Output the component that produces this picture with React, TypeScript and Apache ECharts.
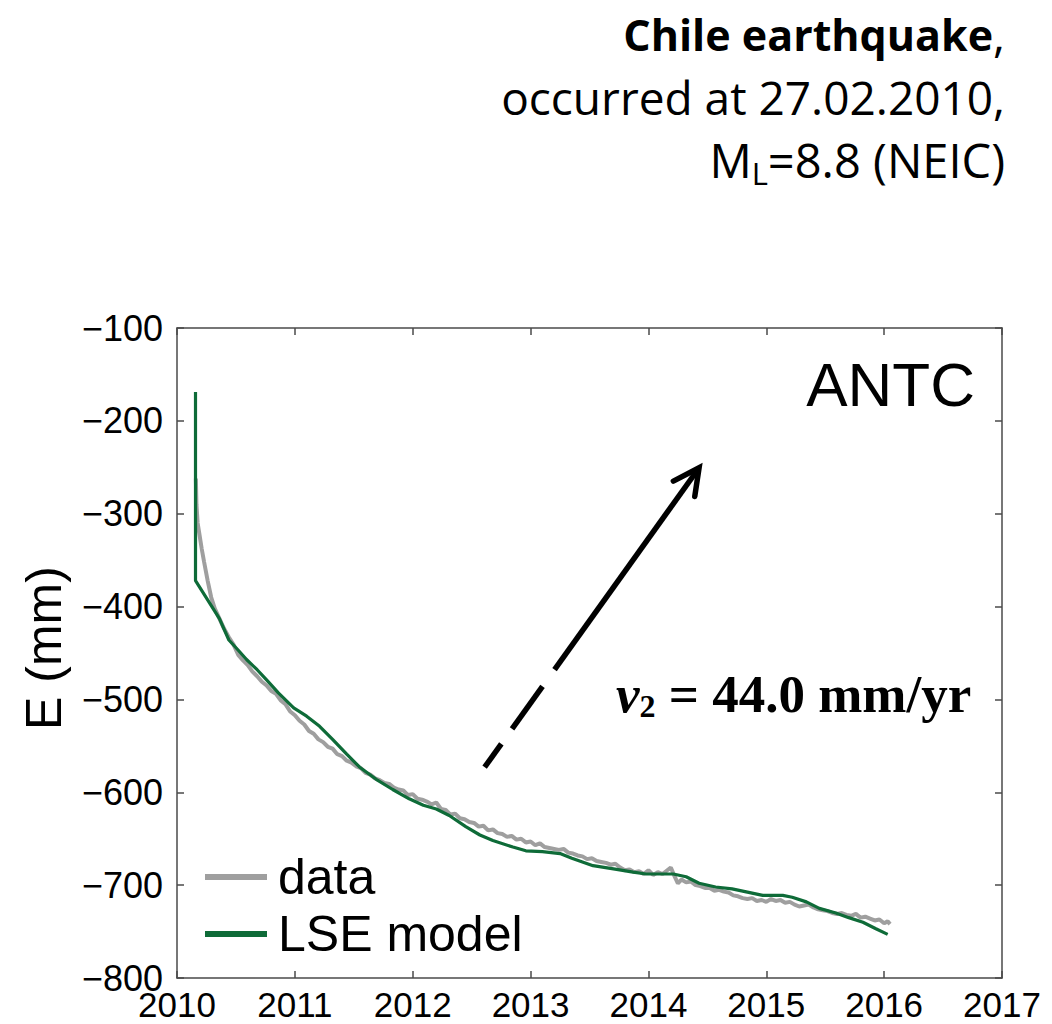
import React, { useEffect, useRef } from "react";
import * as echarts from "echarts";

// ---- data ----
const dataYears = [
  2010.160, 2010.165, 2010.175, 2010.19, 2010.21, 2010.23, 2010.26, 2010.29, 2010.32, 2010.36,
  2010.40, 2010.44, 2010.48, 2010.52, 2010.56, 2010.60, 2010.64, 2010.68, 2010.72, 2010.76,
  2010.80, 2010.84, 2010.88, 2010.92, 2010.96, 2011.00, 2011.04, 2011.08, 2011.12, 2011.16,
  2011.20, 2011.24, 2011.28, 2011.32, 2011.36, 2011.40, 2011.44, 2011.48, 2011.52, 2011.56,
  2011.60, 2011.64, 2011.68, 2011.72, 2011.76, 2011.80, 2011.84, 2011.88, 2011.92, 2011.96,
  2012.00, 2012.04, 2012.08, 2012.12, 2012.16, 2012.20, 2012.24, 2012.28, 2012.32, 2012.36,
  2012.40, 2012.44, 2012.48, 2012.52, 2012.56, 2012.60, 2012.64, 2012.68, 2012.72, 2012.76,
  2012.80, 2012.84, 2012.88, 2012.92, 2012.96, 2013.00, 2013.04, 2013.08, 2013.12, 2013.16,
  2013.20, 2013.24, 2013.28, 2013.32, 2013.36, 2013.40, 2013.44, 2013.48, 2013.52, 2013.56,
  2013.60, 2013.64, 2013.68, 2013.72, 2013.76, 2013.80, 2013.84, 2013.88, 2013.92, 2013.96,
  2014.00, 2014.04, 2014.08, 2014.12, 2014.16, 2014.19, 2014.22, 2014.25, 2014.28, 2014.32,
  2014.36, 2014.40, 2014.44, 2014.48, 2014.52, 2014.56, 2014.60, 2014.64, 2014.68, 2014.72,
  2014.76, 2014.80, 2014.84, 2014.88, 2014.92, 2014.96, 2015.00, 2015.04, 2015.08, 2015.12,
  2015.16, 2015.20, 2015.24, 2015.28, 2015.32, 2015.36, 2015.40, 2015.44, 2015.48, 2015.52,
  2015.56, 2015.60, 2015.64, 2015.68, 2015.72, 2015.76, 2015.80, 2015.84, 2015.88, 2015.92,
  2015.96, 2016.00, 2016.03, 2016.05,
];
const dataValues = [
  -262, -290, -310, -322, -338, -352, -372, -390, -402, -413,
  -424, -433, -441, -452, -458, -463, -470, -475, -481, -485,
  -491, -494, -501, -505, -513, -517, -523, -527, -534, -537,
  -543, -546, -551, -553, -559, -561, -566, -568, -572, -574,
  -579, -581, -585, -587, -590, -591, -595, -597, -598, -603,
  -602, -607, -608, -610, -613, -611, -618, -619, -624, -623,
  -628, -629, -632, -633, -637, -636, -641, -640, -644, -645,
  -648, -647, -651, -650, -654, -653, -657, -655, -659, -660,
  -661, -662, -661, -665, -666, -668, -669, -672, -671, -674,
  -675, -676, -678, -677, -681, -684, -683, -686, -685, -688,
  -684, -689, -686, -688, -684, -681, -690, -698, -694, -697,
  -696, -700, -701, -703, -703, -706, -705, -707, -708, -711,
  -712, -714, -715, -714, -717, -716, -718, -715, -717, -716,
  -719, -718, -721, -723, -722, -721, -724, -726, -727, -728,
  -730, -731, -730, -732, -733, -731, -735, -734, -736, -738,
  -737, -741, -739, -742,
];
const modelYears = [
  2010.157, 2010.157, 2010.36, 2010.44, 2010.52, 2010.59, 2010.68, 2010.76, 2010.86, 2010.99,
  2011.10, 2011.21, 2011.32, 2011.44, 2011.55, 2011.69, 2011.83, 2011.97, 2012.09, 2012.20,
  2012.31, 2012.45, 2012.57, 2012.68, 2012.85, 2012.96, 2013.10, 2013.25, 2013.35, 2013.44,
  2013.53, 2013.73, 2013.87, 2013.98, 2014.09, 2014.21, 2014.32, 2014.43, 2014.57, 2014.71,
  2014.86, 2014.97, 2015.14, 2015.22, 2015.34, 2015.45, 2015.59, 2015.70, 2015.82, 2015.93,
  2016.03,
];
const modelValues = [
  -169, -372, -413, -436, -447, -457, -468, -479, -493, -509,
  -518, -529, -543, -559, -573, -586, -597, -607, -614, -618,
  -625, -637, -646, -652, -659, -663, -664, -666, -671, -675,
  -679, -683, -686, -688, -688, -688, -691, -698, -702, -704,
  -708, -711, -711, -713, -718, -725, -730, -735, -740, -747,
  -753,
];
const xTickLabels = ["2010", "2011", "2012", "2013", "2014", "2015", "2016", "2017"];
const yTickLabels = ["-800", "-700", "-600", "-500", "-400", "-300", "-200", "-100"];
const seriesNames = ["data", "LSE model"];
const arrowTail = [2012.61, -573];
const arrowTip = [2014.43, -250.5];

const AXIS = "#4a4a4a";
const GRAY = "#9f9f9f";
const GREEN = "#0e6b38";

export default function App() {
  const ref = useRef<HTMLDivElement>(null);

  useEffect(() => {
    const el = ref.current;
    if (!el) return;
    const chart = echarts.init(el, null, { renderer: "svg" });

    const xMin = Number(xTickLabels[0]);
    const xMax = Number(xTickLabels[xTickLabels.length - 1]);
    const yMin = Number(yTickLabels[0]);
    const yMax = Number(yTickLabels[yTickLabels.length - 1]);

    const baseX = {
      type: "value",
      min: xMin,
      max: xMax,
      interval: 1,
      axisLine: { show: true, onZero: false, lineStyle: { color: AXIS, width: 1.5 } },
      axisTick: { show: true, inside: true, length: 7, lineStyle: { color: AXIS, width: 1.5 } },
      splitLine: { show: false },
    };
    const baseY = {
      type: "value",
      min: yMin,
      max: yMax,
      interval: 100,
      axisLine: { show: true, onZero: false, lineStyle: { color: AXIS, width: 1.5 } },
      axisTick: { show: true, inside: true, length: 7, lineStyle: { color: AXIS, width: 1.5 } },
      splitLine: { show: false },
    };

    chart.setOption({
      animation: false,
      backgroundColor: "#ffffff",
      grid: { left: 177, right: 50, top: 328, bottom: 46, containLabel: false },
      xAxis: [
        {
          ...baseX,
          position: "bottom",
          axisLabel: {
            show: true,
            margin: 14,
            color: "#000",
            fontFamily: "Liberation Sans",
            fontSize: 35,
            lineHeight: 24,
            formatter: (v: number) => String(v),
          },
        },
        { ...baseX, position: "top", axisLabel: { show: false } },
      ],
      yAxis: [
        {
          ...baseY,
          position: "left",
          axisLabel: {
            show: true,
            margin: 14,
            color: "#000",
            fontFamily: "Liberation Sans",
            fontSize: 36,
            formatter: (v: number) => String(v).replace("-", "\u2212"),
          },
        },
        { ...baseY, position: "right", axisLabel: { show: false } },
      ],
      legend: {
        orient: "vertical",
        left: 205,
        top: 852,
        padding: 0,
        itemWidth: 62,
        itemHeight: 6,
        itemGap: 7,
        icon: "rect",
        selectedMode: false,
        textStyle: {
          color: "#000",
          fontFamily: "Liberation Sans",
          fontSize: 50,
          lineHeight: 48,
          padding: [0, 0, 0, 6],
        },
        data: seriesNames,
      },
      series: [
        {
          name: seriesNames[0],
          type: "line",
          xAxisIndex: 0,
          yAxisIndex: 0,
          data: dataYears.map((x, i) => [x, dataValues[i]]),
          showSymbol: false,
          symbol: "none",
          lineStyle: { color: GRAY, width: 4 },
          itemStyle: { color: GRAY },
          z: 2,
        },
        {
          name: seriesNames[1],
          type: "line",
          xAxisIndex: 0,
          yAxisIndex: 0,
          data: modelYears.map((x, i) => [x, modelValues[i]]),
          showSymbol: false,
          symbol: "none",
          lineStyle: { color: GREEN, width: 3.2 },
          itemStyle: { color: GREEN },
          z: 3,
        },
      ],
    });

    // annotation arrow in data coordinates
    const finder = { xAxisIndex: 0, yAxisIndex: 0 };
    const p0 = chart.convertToPixel(finder, arrowTail) as number[];
    const p1 = chart.convertToPixel(finder, arrowTip) as number[];
    const dx = p1[0] - p0[0];
    const dy = p1[1] - p0[1];
    const len = Math.sqrt(dx * dx + dy * dy);
    const ux = dx / len;
    const uy = dy / len;
    const at = (t: number) => [p0[0] + dx * t, p0[1] + dy * t];
    const segs = [
      [0, 0.078],
      [0.128, 0.27],
      [0.326, 0.985],
    ];
    const arrowStyle = { stroke: "#000", lineWidth: 5.5, lineCap: "butt" };
    const segEls = segs.map(([a, b]) => {
      const s = at(a);
      const e = at(b);
      return {
        type: "line",
        shape: { x1: s[0], y1: s[1], x2: e[0], y2: e[1] },
        style: arrowStyle,
        z: 10,
      };
    });
    const ang = (27 * Math.PI) / 180;
    const armLen = 29;
    const bx = -ux;
    const by = -uy;
    const rot = (a: number) => [
      p1[0] + armLen * (bx * Math.cos(a) - by * Math.sin(a)),
      p1[1] + armLen * (bx * Math.sin(a) + by * Math.cos(a)),
    ];
    const headEl = {
      type: "polyline",
      shape: { points: [rot(ang), [p1[0], p1[1]], rot(-ang)] },
      style: { stroke: "#000", fill: null, lineWidth: 5.5, lineCap: "round", lineJoin: "miter" },
      z: 10,
    };

    const titleFont = "Open Sans";
    chart.setOption({
      graphic: [
        ...segEls,
        headEl,
        {
          type: "text",
          x: 1005,
          y: 34,
          style: {
            text: "{b|Chile earthquake}{r|,}",
            align: "right",
            verticalAlign: "middle",
            rich: {
              b: { fontFamily: titleFont, fontSize: 43, fontWeight: "bold", fill: "#000" },
              r: { fontFamily: titleFont, fontSize: 46, fontWeight: "normal", fill: "#000" },
            },
          },
        },
        {
          type: "text",
          x: 1005,
          y: 97,
          style: {
            text: "occurred at 27.02.2010,",
            align: "right",
            verticalAlign: "middle",
            fontFamily: titleFont,
            fontSize: 46,
            fill: "#000",
          },
        },
        {
          type: "text",
          x: 1005,
          y: 132,
          style: {
            text: "{m|M}{s|L}{m|=8.8 (NEIC)}",
            align: "right",
            verticalAlign: "top",
            rich: {
              m: { fontFamily: titleFont, fontSize: 47, lineHeight: 56, fill: "#000" },
              s: {
                fontFamily: titleFont,
                fontSize: 31,
                lineHeight: 18,
                verticalAlign: "bottom",
                fill: "#000",
              },
            },
          },
        },
        {
          type: "text",
          x: 975,
          y: 384,
          style: {
            text: "ANTC",
            align: "right",
            verticalAlign: "middle",
            fontFamily: "Liberation Sans",
            fontSize: 62,
            fill: "#000",
          },
          z: 10,
        },
        {
          type: "text",
          x: 616,
          y: 666,
          style: {
            text: "{v|v}{s|2}{t| = 44.0 mm/yr}",
            align: "left",
            verticalAlign: "top",
            rich: {
              v: {
                fontFamily: "Liberation Serif",
                fontSize: 53,
                fontWeight: "bold",
                fontStyle: "italic",
                lineHeight: 56,
                fill: "#000",
              },
              s: {
                fontFamily: "Liberation Serif",
                fontSize: 32,
                fontWeight: "bold",
                lineHeight: 22,
                verticalAlign: "bottom",
                fill: "#000",
              },
              t: {
                fontFamily: "Liberation Serif",
                fontSize: 53,
                fontWeight: "bold",
                lineHeight: 56,
                fill: "#000",
              },
            },
          },
          z: 10,
        },
        {
          type: "text",
          x: 44,
          y: 648,
          rotation: Math.PI / 2,
          style: {
            text: "E (mm)",
            align: "center",
            verticalAlign: "middle",
            fontFamily: "Liberation Sans",
            fontSize: 50,
            fill: "#000",
          },
        },
      ],
    });

    return () => {
      chart.dispose();
    };
  }, []);

  return (
    <div
      ref={ref}
      style={{ position: "fixed", left: 0, top: 0, width: 1052, height: 1024, background: "#fff" }}
    />
  );
}
